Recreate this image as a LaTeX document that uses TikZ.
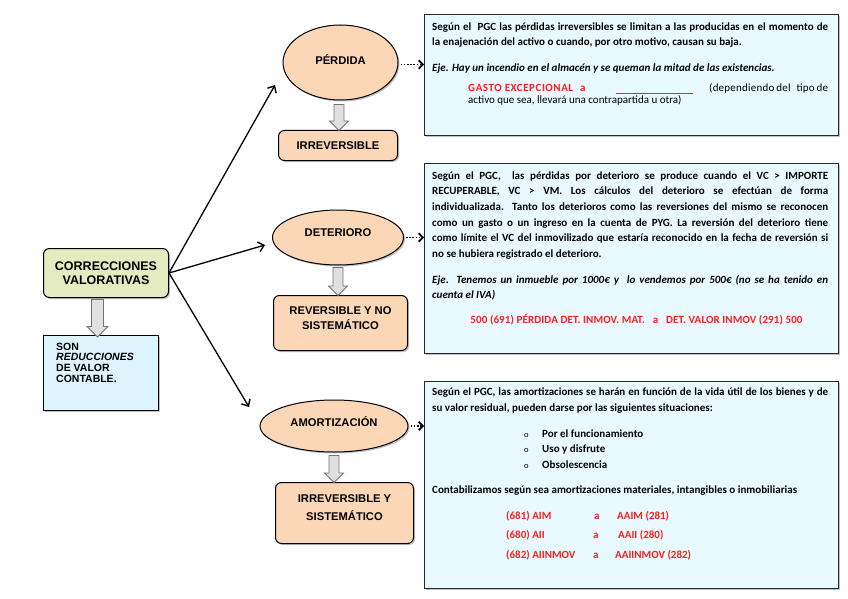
\documentclass[tikz,border=0pt]{standalone}
\usepackage{fontspec}
\setmainfont{Carlito}
\newfontfamily\arialf{Liberation Sans}
\usetikzlibrary{shapes.geometric,arrows.meta,shadows,calc}
\definecolor{peach}{RGB}{251,214,183}
\definecolor{olivebg}{RGB}{228,235,192}
\definecolor{cyanbg}{RGB}{232,250,255}
\definecolor{sonbg}{RGB}{222,244,252}
\definecolor{redtxt}{RGB}{255,30,30}
\definecolor{bordr}{RGB}{40,40,40}
\newcommand\blkarrow[3]{\draw[blkp] (#1) ++(-#3,0) -- ++(2*#3,0) -- ++(0,#2) -- ++(4.5,0) -- ++(-#3-4.5,#3+4.5) -- ++(-#3-4.5,-#3-4.5) -- ++(4.5,0) -- cycle;}
\begin{document}
\begin{tikzpicture}[x=1pt,y=-1pt,
  shshadow/.style={drop shadow={shadow xshift=1.5pt,shadow yshift=-1.5pt,opacity=0.35,fill=black!70}},
  oval/.style={ellipse, draw=black, line width=1pt, fill=peach, inner sep=0pt, align=center,
    font=\arialf\bfseries\fontsize{11.2}{13}\selectfont, shshadow},
  pbox/.style={rectangle, rounded corners=6pt, draw=black, line width=1pt, fill=peach, inner sep=0pt,
    anchor=north west, align=center, font=\arialf\bfseries\fontsize{11.2}{16.5}\selectfont, shshadow},
  lbl/.style={inner sep=0pt, align=center, font=\arialf\bfseries\fontsize{11.2}{15}\selectfont},
  tbox/.style={rectangle, draw=bordr, line width=1.3pt, fill=cyanbg, anchor=north west, inner sep=0pt, shshadow},
  blkp/.style={draw=black!55, fill=black!12, line width=0.8pt},
  conn/.style={line width=1.3pt, -{Straight Barb[length=5.5pt,width=10pt,line width=1.4pt]}},
  dotarr/.style={line width=1.6pt, dash pattern=on 1.6pt off 1.6pt, -{Straight Barb[length=4pt,width=8.5pt,line width=1.8pt]}},
  tx/.style={anchor=base west, inner sep=0pt, font=\bfseries\fontsize{11}{15}\selectfont},
  txr/.style={tx, font=\fontsize{11}{15}\selectfont},
  rd/.style={tx, text=redtxt},
]
\useasboundingbox (0,0) rectangle (848,599);
\fill[white] (0,0) rectangle (848,599);

% left column
\node[rectangle, rounded corners=6pt, draw=black, line width=1pt, fill=olivebg, anchor=north west,
  minimum width=125pt, minimum height=49pt, inner sep=0pt, align=center,
  font=\arialf\bfseries\fontsize{12.5}{14}\selectfont, shshadow] (c) at (43,248) {CORRECCIONES\\VALORATIVAS};
\node[rectangle, draw=black, line width=1pt, fill=sonbg, anchor=north west,
  minimum width=115pt, minimum height=75pt, inner sep=0pt, shshadow] (son) at (43,335) {};
\node[anchor=north west, inner sep=0pt, align=left, font=\arialf\bfseries\fontsize{10.5}{10.8}\selectfont]
  (sontxt) at (56,342.5) {SON\\\textit{REDUCCIONES}\\DE VALOR\\CONTABLE.};
\blkarrow{$(c.south)+(-8.5,1.5)$}{27}{6}

% ellipses and boxes
\node[oval, minimum width=115pt, minimum height=75pt] (e1) at (340.5,62.5) {\raisebox{5pt}{PÉRDIDA}};
\node[oval, minimum width=131pt, minimum height=55pt] (e2) at (338,237.5) {\raisebox{9pt}{DETERIORO}};
\node[oval, minimum width=148pt, minimum height=52pt] (e3) at (334,426) {\raisebox{8pt}{AMORTIZACIÓN}};
\node[pbox, minimum width=119pt, minimum height=30pt] (b1) at (278,130) {IRREVERSIBLE};
\node[pbox, minimum width=134pt, minimum height=55pt] (b2) at (273,295) {};
\node[pbox, minimum width=138pt, minimum height=61pt] (b3) at (275,482) {};
\node[lbl] (b2t) at ($(b2.center)+(0,-5)$) {REVERSIBLE Y NO\\SISTEMÁTICO};
\node[lbl, font=\arialf\bfseries\fontsize{11.2}{18}\selectfont] (b3t) at ($(b3.center)+(0,-5)$) {IRREVERSIBLE Y\\SISTEMÁTICO};
\blkarrow{$(e1.south)+(-1.5,4)$}{16.5}{5}
\blkarrow{$(e2.south)+(0,2)$}{18.5}{5}
\blkarrow{$(e3.south)+(0,3)$}{17.5}{5}

% connectors from the left box
\coordinate (p1) at (275,85);
\coordinate (p2) at (265,245);
\coordinate (p3) at (249,407);
\draw[conn] (c.east) -- (p1);
\draw[conn] (c.east) -- (p2);
\draw[conn] (c.east) -- (p3);

% text boxes
\node[tbox, minimum width=414pt, minimum height=121pt] (t1) at (424,14) {};
\node[tbox, minimum width=414pt, minimum height=190pt] (t2) at (424,163) {};
\node[tbox, minimum width=414pt, minimum height=207pt] (t3) at (424,381) {};

\draw[dotarr] ($(e1.east)+(2,2)$) -- ($(e1.east -| t1.west)+(0,2)$);
\draw[dotarr] ($(e2.east)+(2,0)$) -- (e2.east -| t2.west);
\draw[dotarr] ($(e3.east)+(2,0)$) -- (e3.east -| t3.west);

% box 1 text
\node[tx] (t1a) at (432,31) {\makebox[396pt][s]{Según el\ \ PGC las pérdidas irreversibles se limitan a las producidas en el momento de}};
\node[tx] (t1b) at (432,46) {la enajenación del activo o cuando, por otro motivo, causan su baja.};
\node[tx] (t1c) at (432,72) {\textit{Eje. Hay un incendio en el almacén y se queman la mitad de las existencias.}};
\node[rd] (t1d) at (468,92) {\addfontfeature{LetterSpace=5}GASTO EXCEPCIONAL};
\node[rd] (t1e) at (580,92) {a};
\node[tx] (t1f) at (616,92) {\textcolor{redtxt}{\rule[-1.5pt]{77pt}{0.7pt}}};
\node[txr] (t1g) at (709,92) {\makebox[119pt][s]{\addfontfeature{LetterSpace=2}(dependiendo del\ \ \ tipo de}};
\node[txr] (t1h) at (468,103) {activo que sea, llevará una contrapartida u otra)};

% box 2 text
\node[tx] (t2a) at (432,179) {\makebox[396pt][s]{Según el PGC,\ \ las pérdidas por deterioro se produce cuando el VC > IMPORTE}};
\node[tx] (t2b) at (432,194.7) {\makebox[396pt][s]{RECUPERABLE, VC > VM. Los cálculos del deterioro se efectúan de forma}};
\node[tx] (t2c) at (432,210.4) {\makebox[396pt][s]{individualizada. Tanto los deterioros como las reversiones del mismo se reconocen}};
\node[tx] (t2d) at (432,226.1) {\makebox[396pt][s]{como un gasto o un ingreso en la cuenta de PYG. La reversión del deterioro tiene}};
\node[tx] (t2e) at (432,241.8) {\makebox[396pt][s]{como límite el VC del inmovilizado que estaría reconocido en la fecha de reversión si}};
\node[tx] (t2f) at (432,257.5) {no se hubiera registrado el deterioro.};
\node[tx] (t2g) at (432,283) {\makebox[396pt][s]{\textit{Eje}. \textit{Tenemos un inmueble por 1000€ y\ \ lo vendemos por 500€ (no se ha tenido en}}};
\node[tx] (t2h) at (432,298) {\textit{cuenta el IVA)}};
\node[rd, anchor=base] (t2i) at (636.5,323) {\addfontfeature{LetterSpace=1}500 (691) PÉRDIDA DET. INMOV. MAT.\ \ \ a\ \ \ DET. VALOR INMOV (291) 500};

% box 3 text
\node[txr, font=\fontsize{8.5}{10}\selectfont] (o1) at (524,437) {o};
\node[txr, font=\fontsize{8.5}{10}\selectfont] (o2) at (524,452.5) {o};
\node[txr, font=\fontsize{8.5}{10}\selectfont] (o3) at (524,468) {o};
\node[tx] (t3a) at (432,395) {\makebox[396pt][s]{Según el PGC, las amortizaciones se harán en función de la vida útil de los bienes y de}};
\node[tx] (t3b) at (432,411) {su valor residual, pueden darse por las siguientes situaciones:};
\node[tx] (u1) at (542,437) {Por el funcionamiento};
\node[tx] (u2) at (542,452.5) {Uso y disfrute};
\node[tx] (u3) at (542,468) {Obsolescencia};
\node[tx] (t3c) at (432,493) {Contabilizamos según sea amortizaciones materiales, intangibles o inmobiliarias};
\node[rd] (r1a) at (506,519) {(681) AIM};
\node[rd] (r1b) at (594,519) {a};
\node[rd] (r1c) at (617,519) {AAIM (281)};
\node[rd] (r2a) at (506,538.5) {(680) AII};
\node[rd] (r2b) at (593,538.5) {a};
\node[rd] (r2c) at (618,538.5) {AAII (280)};
\node[rd] (r3a) at (506,558) {(682) AIINMOV};
\node[rd] (r3b) at (593,558) {a};
\node[rd] (r3c) at (615,558) {AAIINMOV (282)};
\end{tikzpicture}
\end{document}
